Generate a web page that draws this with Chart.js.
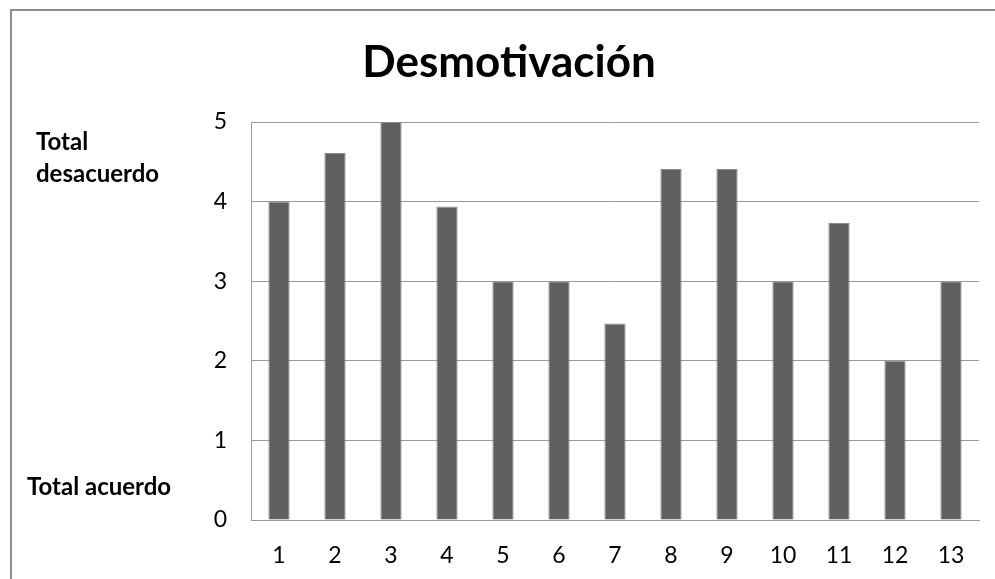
<!DOCTYPE html>
<html>
<head>
<meta charset="utf-8">
<script src="https://cdn.jsdelivr.net/npm/chart.js@4"></script>
<style>
  body { margin: 0; background: #fff; }
  #wrap { width: 995px; height: 579px; }
</style>
</head>
<body>
<div id="wrap"><canvas id="barChart"></canvas></div>
<script>
var categories = ['1', '2', '3', '4', '5', '6', '7', '8', '9', '10', '11', '12', '13'];
var values = [4, 4.61, 5, 3.94, 3, 3, 2.47, 4.41, 4.41, 3, 3.73, 2, 3];
var yTicks = [0, 1, 2, 3, 4, 5];
var chartTitle = 'Desmotivación';
var topNote = ['Total', 'desacuerdo'];
var bottomNote = 'Total acuerdo';

// frame, title and the two side notes
var extras = {
    id: 'extras',
    beforeDraw: function(chart) {
        var c = chart.ctx;
        c.save();
        c.fillStyle = '#fff';
        c.fillRect(0, 0, chart.width, chart.height);
        c.strokeStyle = '#8c8c8c';
        c.lineWidth = 2;
        c.beginPath();
        c.moveTo(11, chart.height);
        c.lineTo(11, 10);
        c.lineTo(chart.width, 10);
        c.stroke();
        c.restore();
    },
    afterDraw: function(chart) {
        var c = chart.ctx;
        c.save();
        c.fillStyle = '#000';
        c.textBaseline = 'alphabetic';
        c.textAlign = 'center';
        c.font = 'bold 44px Lato';
        c.fillText(chartTitle, 509, 77);
        c.textAlign = 'left';
        c.font = 'bold 24px Lato';
        c.fillText(topNote[0], 36, 150);
        c.fillText(topNote[1], 36, 182);
        c.fillText(bottomNote, 27, 495);
        c.restore();
    }
};

var ctx = document.getElementById('barChart').getContext('2d');
var myChart = new Chart(ctx, {
    type: 'bar',
    data: {
        labels: categories,
        datasets: [{
            data: values,
            backgroundColor: '#606060',
            borderColor: '#8e8e8e',
            borderWidth: 1,
            barPercentage: 0.38,
            categoryPercentage: 1
        }]
    },
    options: {
        responsive: true,
        maintainAspectRatio: false,
        animation: false,
        layout: { padding: { top: 122, right: 16, left: 0, bottom: 0 } },
        plugins: {
            legend: { display: false },
            title: { display: false },
            tooltip: { enabled: false }
        },
        scales: {
            x: {
                grid: { display: false, drawTicks: false },
                border: { color: '#9a9a9a', width: 1 },
                ticks: { color: '#000', font: { family: 'Lato', size: 23 }, padding: 22 },
                afterFit: function(s) { s.height = 59; }
            },
            y: {
                min: 0,
                max: 5,
                afterBuildTicks: function(s) { s.ticks = yTicks.map(function(v) { return { value: v }; }); },
                grid: { color: '#9a9a9a', drawTicks: false },
                border: { color: '#9a9a9a', width: 1 },
                ticks: { color: '#000', font: { family: 'Lato', size: 23 }, padding: 24 },
                afterFit: function(s) { s.width = 251; }
            }
        }
    },
    plugins: [extras]
});
</script>
</body>
</html>
